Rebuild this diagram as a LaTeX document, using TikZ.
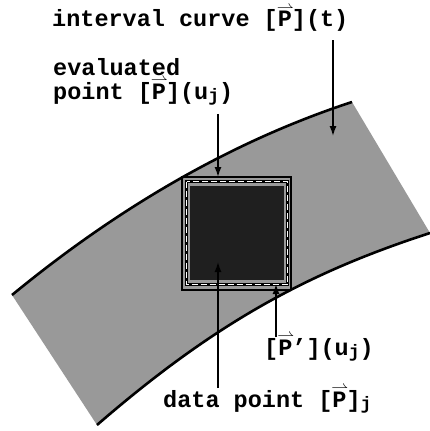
\documentclass[tikz,border=0pt]{standalone}
\usepackage{amsmath}
\usepackage{fontspec}
\newfontfamily\typefont{Liberation Mono}
\usetikzlibrary{arrows.meta,calc}
\definecolor{BandClr}{rgb}{0.6,0.6,0.6}
\definecolor{CoreClr}{rgb}{0.12,0.12,0.12}
\newcommand{\vecP}{\makebox[0pt][l]{\hspace{-1pt}\raisebox{0.6em}[0pt][0pt]{$\scriptstyle\rightharpoonup$}}P}
\newcommand{\subj}{\raisebox{-0.12em}{\fontsize{18}{18}\selectfont j}}

\begin{document}
\begin{tikzpicture}[x=1pt,y=-1pt,
  lbl/.style={font=\typefont\bfseries\fontsize{23.5}{24}\selectfont,
    inner sep=0pt,anchor=base west,align=left},
  ptr/.style={line width=1.4pt,-{Latex[length=10pt,width=7pt]}},
  edge/.style={line width=2.6pt}]
\useasboundingbox (0,0) rectangle (430,431);

\coordinate (A) at (12,295);
\coordinate (B) at (352,102);
\coordinate (C) at (97,425);
\coordinate (D) at (430,233);

% the band between the two curves
\fill[BandClr] (A) .. controls (125,202) and (239,139) .. (B) -- (D)
  .. controls (310,272) and (217,321) .. (C) -- cycle;
\draw[edge] (A) .. controls (125,202) and (239,139) .. (B);
\draw[edge] (C) .. controls (217,321) and (310,272) .. (D);

% evaluated box, derivative frame, data point
\fill[CoreClr] (190,186) rectangle (284,280);
\draw[line width=3pt] (186.5,181.5) rectangle (287.5,284.5);
\draw[white,line width=1.2pt,dash pattern=on 6pt off 3pt]
  (186.5,181.5) rectangle (287.5,284.5);
\draw[edge] (182,177) rectangle (291,290);

\coordinate (curveTip) at (333,136);
\coordinate (evalTip) at (218,177);
\coordinate (dataTip) at (218,262);
\coordinate (derivTip) at (276,284);

\node[lbl] (lblCurve) at (52,27) {interval curve [\vecP](t)};
\node[lbl] (lblEval) at (53,99) {evaluated\\point [\vecP](u\subj)};
\node[lbl] (lblDeriv) at (264,355) {[\vecP’](u\subj)};
\node[lbl] (lblData) at (163,407) {data point [\vecP]\subj};

\draw[ptr,shorten <=13pt] (curveTip |- lblCurve.base) -- (curveTip);
\draw[ptr,shorten <=8pt] (evalTip |- lblEval.south) -- (evalTip);
\draw[ptr,shorten <=19pt] (dataTip |- lblData.base) -- (dataTip);
\draw[ptr,shorten <=18pt] (derivTip |- lblDeriv.base) -- (derivTip);

\end{tikzpicture}
\end{document}
